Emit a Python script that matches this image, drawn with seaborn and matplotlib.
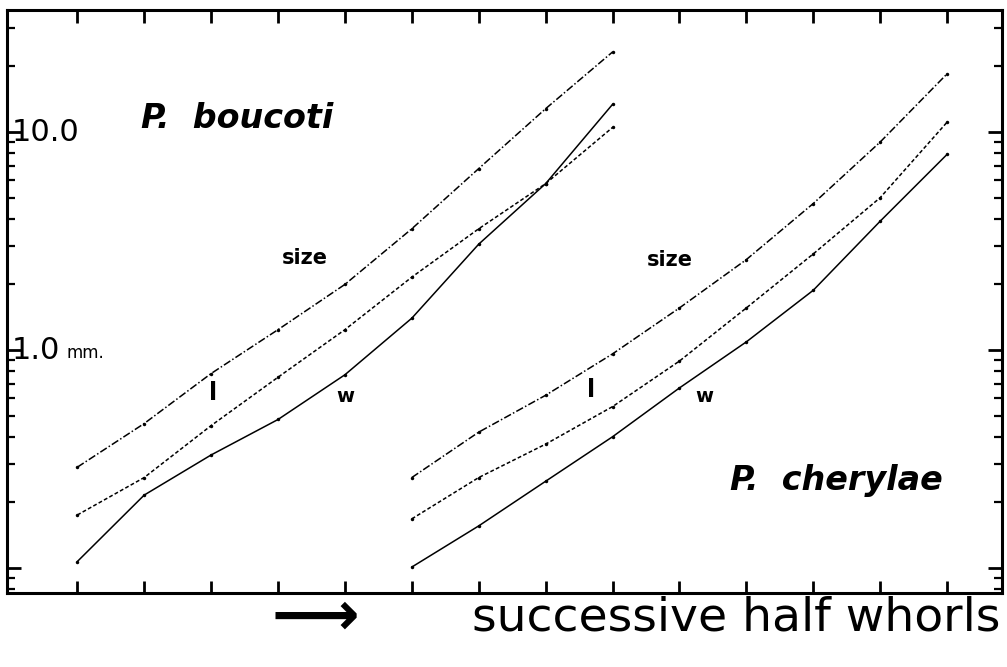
import pandas as pd
import matplotlib.pyplot as plt
import matplotlib.ticker as mticker
import seaborn as sns

# half-whorl positions
x_boucoti = [0, 1, 2, 3, 4, 5, 6, 7, 8]
x_cherylae = [5, 6, 7, 8, 9, 10, 11, 12, 13]

# mm
boucoti_size = [0.29, 0.46, 0.78, 1.24, 2.0, 3.6, 6.8, 12.8, 23.3]
boucoti_l = [0.175, 0.26, 0.45, 0.75, 1.24, 2.16, 3.6, 5.8, 10.5]
boucoti_w = [0.107, 0.216, 0.33, 0.48, 0.77, 1.4, 3.06, 5.8, 13.4]
cherylae_size = [0.26, 0.42, 0.62, 0.96, 1.56, 2.6, 4.7, 9.0, 18.5]
cherylae_l = [0.168, 0.26, 0.37, 0.55, 0.89, 1.56, 2.76, 5.0, 11.1]
cherylae_w = [0.101, 0.156, 0.25, 0.40, 0.67, 1.09, 1.88, 3.9, 7.9]

sns.set_style("ticks", {'axes.edgecolor': 'black', 'text.color': 'black',
                        'xtick.color': 'black', 'ytick.color': 'black'})
plt.rcParams['font.family'] = ['DejaVu Sans']

fig = plt.figure(figsize=(10.07, 6.67), dpi=100)
ax = fig.add_axes([0.007, 0.111, 0.988, 0.874])

styles = {'size': (0, (5, 1.5, 1, 1.5)), 'l': (0, (2.5, 1.5)), 'w': '-'}
series = [
    (x_boucoti, boucoti_size, 'size'), (x_boucoti, boucoti_l, 'l'), (x_boucoti, boucoti_w, 'w'),
    (x_cherylae, cherylae_size, 'size'), (x_cherylae, cherylae_l, 'l'), (x_cherylae, cherylae_w, 'w'),
]
for xs, ys, kind in series:
    d = pd.DataFrame({'x': xs, 'y': ys})
    sns.lineplot(data=d, x='x', y='y', ax=ax, color='black', linewidth=1.1,
                 linestyle=styles[kind], marker='o', markersize=2.5, markeredgewidth=0)

ax.set_yscale('log')
ax.set_xlim(-1.05, 13.82)
ax.set_ylim(0.0768, 36.3)
ax.set_xticks(range(14))
ax.yaxis.set_major_locator(mticker.FixedLocator([0.1, 1, 10]))
ax.yaxis.set_minor_locator(mticker.LogLocator(base=10, subs=[2, 3, 4, 5, 6, 7, 8, 9], numticks=20))
ax.tick_params(axis='x', which='major', direction='in', length=9, width=2,
               top=True, bottom=True, labelbottom=False)
ax.tick_params(axis='y', which='major', direction='in', length=10, width=2,
               left=True, right=True, labelleft=False)
ax.tick_params(axis='y', which='minor', direction='in', length=6, width=1.6,
               left=True, right=True, labelleft=False)
for s in ax.spines.values():
    s.set_linewidth(2.2)
    s.set_color('black')
ax.set_xlabel('')
ax.set_ylabel('')

# axis value labels drawn inside the frame
tr = ax.get_yaxis_transform()
ax.text(0.005, 10, '10.0', transform=tr, fontsize=22, va='center', ha='left')
ax.text(0.005, 1, '1.0', transform=tr, fontsize=22, va='center', ha='left')
ax.text(0.060, 0.97, 'mm.', transform=tr, fontsize=12, va='center', ha='left')

# species and curve labels
ax.text(0.95, 11.5, 'P.  boucoti', fontsize=24, fontweight='bold', style='italic', va='center')
ax.text(9.75, 0.253, 'P.  cherylae', fontsize=24, fontweight='bold', style='italic', va='center')
for x0, y0 in [(3.4, 2.64), (8.85, 2.59)]:
    ax.text(x0, y0, 'size', fontsize=15, fontweight='bold', ha='center', va='center')
for x0, y0 in [(2.03, 0.635), (7.68, 0.655)]:
    ax.text(x0, y0, 'l', fontsize=17, fontweight='bold', ha='center', va='center')
for x0, y0 in [(4.0, 0.61), (9.37, 0.61)]:
    ax.text(x0, y0, 'w', fontsize=14, fontweight='bold', ha='center', va='center')

fig.text(0.313, 0.073, '\u27f6', fontsize=44, fontweight='bold', ha='center', va='center')
fig.text(0.993, 0.073, 'successive half whorls', fontsize=34, ha='right', va='center')

plt.savefig('out.png', dpi=100)
